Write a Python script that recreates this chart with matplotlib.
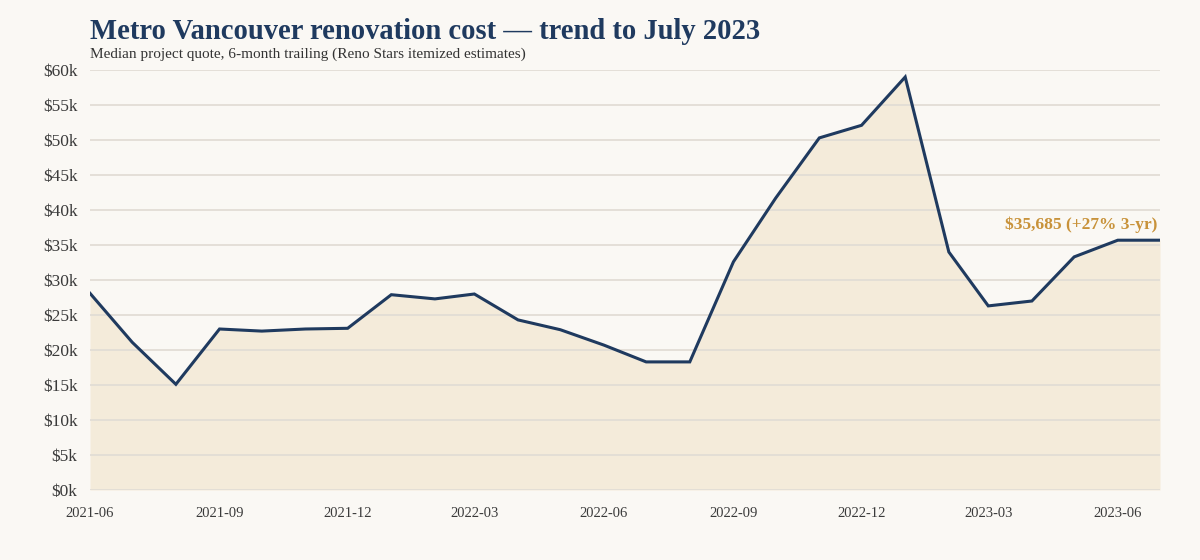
import numpy as np
import pandas as pd
import matplotlib
matplotlib.use("Agg")
import matplotlib.pyplot as plt
import matplotlib.dates as mdates
from matplotlib.ticker import FuncFormatter

months = ["2021-06", "2021-07", "2021-08", "2021-09", "2021-10", "2021-11",
          "2021-12", "2022-01", "2022-02", "2022-03", "2022-04", "2022-05",
          "2022-06", "2022-07", "2022-08", "2022-09", "2022-10", "2022-11",
          "2022-12", "2023-01", "2023-02", "2023-03", "2023-04", "2023-05",
          "2023-06", "2023-07"]
quote = [28100, 21100, 15100, 23000, 22700, 23000,
         23100, 27900, 27300, 28000, 24300, 22900,
         20700, 18300, 18300, 32600, 41700, 50300,
         52100, 59000, 34000, 26300, 27000, 33300,
         35685, 35685]
tick_months = ["2021-06", "2021-09", "2021-12", "2022-03", "2022-06",
               "2022-09", "2022-12", "2023-03", "2023-06"]
last_label = "$35,685 (+27% 3-yr)"

bg = "#faf8f4"
navy = "#1f3a5f"
gold = "#c8923a"
plt.rcParams['font.family'] = ['Liberation Serif', 'DejaVu Serif']

dates = pd.to_datetime(months)
fig = plt.figure(figsize=(12, 5.6), dpi=100, facecolor=bg)
ax = fig.add_axes([0.075, 0.125, 0.8917, 0.75])
ax.set_facecolor(bg)

ax.fill_between(dates, quote, 0, color="#f4e9d6", alpha=0.85, lw=0, zorder=1)
ax.plot(dates, quote, color=navy, lw=2.2, zorder=3, solid_joinstyle="miter")

ax.set_xlim(dates[0], dates[-1])
ax.set_ylim(0, 60000)
ax.set_yticks(np.arange(0, 60001, 5000))
ax.yaxis.set_major_formatter(FuncFormatter(lambda v, p: "$%dk" % (v / 1000)))
ax.set_xticks(pd.to_datetime(tick_months))
ax.xaxis.set_major_formatter(mdates.DateFormatter("%Y-%m"))
ax.grid(axis="y", color="#e2ddd5", lw=1.3, zorder=2)
ax.set_axisbelow(False)
for s in ax.spines.values():
    s.set_visible(False)
ax.tick_params(axis="y", length=0, pad=9, labelsize=12.5, labelcolor="#3a3a3a")
ax.tick_params(axis="x", length=0, pad=12, labelsize=10.5, labelcolor="#3a3a3a")

ax.annotate(last_label, (dates[-1], quote[-1]), xytext=(-2, 5.5),
            textcoords="offset points", ha="right", va="bottom",
            color=gold, fontsize=12.5, fontweight="bold")

fig.text(0.075, 0.943, "Metro Vancouver renovation cost \u2014 trend to July 2023",
         fontsize=20.6, fontweight="bold", color=navy, va="center", ha="left")
fig.text(0.075, 0.903, "Median project quote, 6-month trailing (Reno Stars itemized estimates)",
         fontsize=11, color="#333333", va="center", ha="left")

fig.savefig("out.png", dpi=100, facecolor=bg)
